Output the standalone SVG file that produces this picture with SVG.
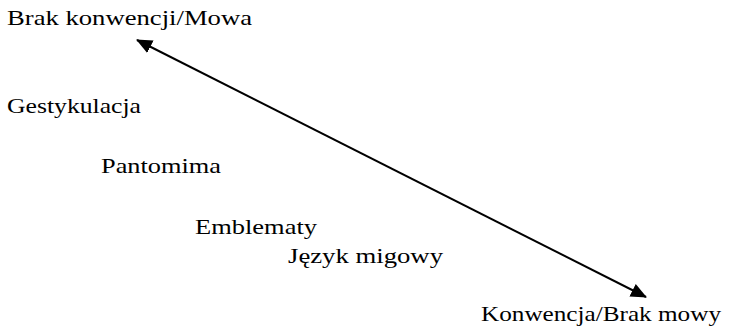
<svg xmlns="http://www.w3.org/2000/svg" width="736" height="330" viewBox="0 0 736 330">
<style>
text{font-family:'Liberation Serif','Times New Roman',serif;font-size:21px;fill:#000}
.c{stroke:#000;stroke-width:2;fill:none}
</style>
<defs>
<marker id="ah" viewBox="0 0 16 14" refX="15" refY="7" markerWidth="16" markerHeight="14" markerUnits="userSpaceOnUse" orient="auto-start-reverse">
<path d="M0,0 L16,7 L0,14 Z" fill="#000"/>
</marker>
</defs>
<rect width="736" height="330" fill="#fff"/>
<g id="connectors">
<line class="c" x1="137" y1="40" x2="646" y2="297" marker-start="url(#ah)" marker-end="url(#ah)"/>
</g>
<g id="n1"><text x="7" y="25" textLength="245" lengthAdjust="spacingAndGlyphs">Brak konwencji/Mowa</text></g>
<g id="n2"><text x="7" y="113" textLength="134" lengthAdjust="spacingAndGlyphs">Gestykulacja</text></g>
<g id="n3"><text x="101" y="173" textLength="120" lengthAdjust="spacingAndGlyphs">Pantomima</text></g>
<g id="n4"><text x="195" y="234" textLength="122" lengthAdjust="spacingAndGlyphs">Emblematy</text></g>
<g id="n5"><text x="288" y="263" textLength="155" lengthAdjust="spacingAndGlyphs">Język migowy</text></g>
<g id="n6"><text x="481" y="321" textLength="240" lengthAdjust="spacingAndGlyphs">Konwencja/Brak mowy</text></g>
</svg>
